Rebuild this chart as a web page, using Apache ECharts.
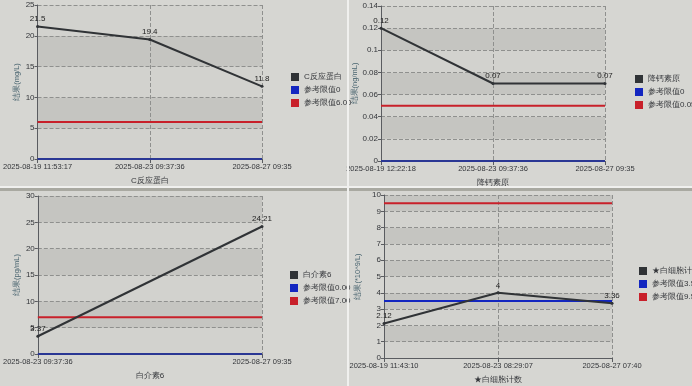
<!DOCTYPE html>
<html><head><meta charset="utf-8">
<script src="https://cdn.jsdelivr.net/npm/echarts@6/dist/echarts.min.js"></script>
<style>html,body{margin:0;padding:0;background:#d6d6d2}#c{width:692px;height:386px}</style>
</head><body><div id="c"></div>
<script>
// Panel 1: C反应蛋白
const crpDates = ['2025-08-19 11:53:17', '2025-08-23 09:37:36', '2025-08-27 09:35'];
const crpValues = [21.5, 19.4, 11.8];
const crpRefLow = [0, 0, 0];
const crpRefHigh = [6, 6, 6];
// Panel 2: 降钙素原
const pctDates = ['2025-08-19 12:22:18', '2025-08-23 09:37:36', '2025-08-27 09:35'];
const pctValues = [0.12, 0.07, 0.07];
const pctRefLow = [0, 0, 0];
const pctRefHigh = [0.05, 0.05, 0.05];
// Panel 3: 白介素6
const il6Dates = ['2025-08-23 09:37:36', '2025-08-27 09:35'];
const il6Values = [3.37, 24.21];
const il6RefLow = [0, 0];
const il6RefHigh = [7, 7];
// Panel 4: 白细胞计数
const wbcDates = ['2025-08-19 11:43:10', '2025-08-23 08:29:07', '2025-08-27 07:40'];
const wbcValues = [2.12, 4, 3.36];
const wbcRefLow = [3.5, 3.5, 3.5];
const wbcRefHigh = [9.5, 9.5, 9.5];

const panels = [
  {grid:{left:33,top:5,width:229,height:154}, dates:crpDates, vals:crpValues, low:crpRefLow, high:crpRefHigh,
   name:'C反应蛋白', lowName:'参考限值0', highName:'参考限值6.00', unit:'结果(mg/L)', max:25, interval:5, nameGap:17, legend:{left:291,top:73}},
  {grid:{left:381,top:6,width:224,height:155}, dates:pctDates, vals:pctValues, low:pctRefLow, high:pctRefHigh,
   name:'降钙素原', lowName:'参考限值0 ', highName:'参考限值0.05', unit:'结果(ng/mL)', max:0.14, interval:0.02, nameGap:22, legend:{left:635,top:75}},
  {grid:{left:33,top:196,width:229,height:158}, dates:il6Dates, vals:il6Values, low:il6RefLow, high:il6RefHigh,
   name:'白介素6', lowName:'参考限值0.00', highName:'参考限值7.00', unit:'结果(pg/mL)', max:30, interval:5, nameGap:17, legend:{left:290,top:271}},
  {grid:{left:384,top:195,width:228,height:163}, dates:wbcDates, vals:wbcValues, low:wbcRefLow, high:wbcRefHigh,
   name:'★白细胞计数', lowName:'参考限值3.50', highName:'参考限值9.50', unit:'结果(*10^9/L)', max:10, interval:1, nameGap:22, legend:{left:639,top:267}}
];

const grids=[], xAxes=[], yAxes=[], series=[], legends=[];
const txt = '#34363a';
panels.forEach((p,i)=>{
  grids.push(Object.assign({containLabel:false, show:false}, p.grid));
  xAxes.push({type:'category', gridIndex:i, data:p.dates, boundaryGap:false,
    name:p.name, nameLocation:'middle', nameGap:18, nameTextStyle:{color:txt,fontSize:8},
    axisLine:{lineStyle:{color:'#5a5c60',width:1}}, axisTick:{show:true,length:4,lineStyle:{color:'#5a5c60'}},
    axisLabel:{color:txt,fontSize:7.5,margin:4,showMinLabel:true,showMaxLabel:true,interval:0},
    splitLine:{show:true,lineStyle:{color:'#8f908e',type:'dashed',width:1}}});
  yAxes.push({type:'value', gridIndex:i, min:0, max:p.max, interval:p.interval,
    name:p.unit, nameLocation:'middle', nameGap:p.nameGap, nameTextStyle:{color:'#4a6570',fontSize:7.5},
    axisLine:{show:true,lineStyle:{color:'#5a5c60'}}, axisTick:{show:true,length:3,lineStyle:{color:'#5a5c60'}},
    axisLabel:{color:txt,fontSize:8,margin:3},
    splitLine:{show:true,lineStyle:{color:'#8f908e',type:'dashed',width:1}},
    splitArea:{show:true,areaStyle:{color:['#d2d2ce','#c5c5c1']}}});
  series.push({type:'line', name:p.name, xAxisIndex:i, yAxisIndex:i, data:p.vals, color:'#303336',
    lineStyle:{width:2,color:'#303336'}, symbol:'circle', symbolSize:3, itemStyle:{color:'#303336'},
    label:{show:true,position:'top',color:'#1e1e1e',fontSize:8,distance:2}, z:5});
  series.push({type:'line', name:p.lowName, xAxisIndex:i, yAxisIndex:i, data:p.low, color:'#1326c0',
    lineStyle:{width:2,color:i===3?'#1326c0':'#2a3794'}, symbol:'none', z:4});
  series.push({type:'line', name:p.highName, xAxisIndex:i, yAxisIndex:i, data:p.high, color:'#c8202a',
    lineStyle:{width:2,color:'#c8202a'}, symbol:'none', z:4});
  legends.push({left:p.legend.left, top:p.legend.top, orient:'vertical', itemWidth:8, itemHeight:8, itemGap:5,
    icon:'rect', data:[p.name,p.lowName,p.highName], textStyle:{color:txt,fontSize:8}, padding:0});
});

const chart = echarts.init(document.getElementById('c'));
chart.setOption({
  backgroundColor:'#d6d6d2',
  animation:false,
  grid:grids, xAxis:xAxes, yAxis:yAxes, series:series, legend:legends,
  graphic:[
    {type:'rect', z:100, shape:{x:0,y:186,width:692,height:2}, style:{fill:'#f0f0ee'}},
    {type:'rect', z:100, shape:{x:0,y:188,width:692,height:3}, style:{fill:'#a9a9a1'}},
    {type:'rect', z:100, shape:{x:347,y:0,width:2,height:386}, style:{fill:'#f0f0ee'}}
  ]
});
</script></body></html>
